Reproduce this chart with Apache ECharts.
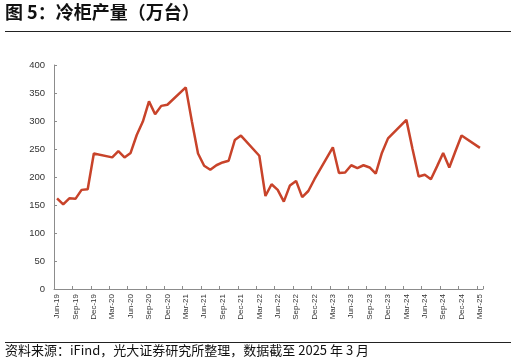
<!DOCTYPE html>
<html>
<head>
<meta charset="utf-8">
<script src="https://cdn.jsdelivr.net/npm/echarts@6/dist/echarts.min.js"></script>
<style>
html,body{margin:0;padding:0;background:#fff;}
#chart{width:516px;height:364px;}
</style>
</head>
<body>
<div id="chart"></div>
<script>
var categories = [
 'Jun-19','Jul-19','Aug-19','Sep-19','Oct-19','Nov-19','Dec-19',
 'Jan-20','Feb-20','Mar-20','Apr-20','May-20','Jun-20','Jul-20','Aug-20','Sep-20','Oct-20','Nov-20','Dec-20',
 'Jan-21','Feb-21','Mar-21','Apr-21','May-21','Jun-21','Jul-21','Aug-21','Sep-21','Oct-21','Nov-21','Dec-21',
 'Jan-22','Feb-22','Mar-22','Apr-22','May-22','Jun-22','Jul-22','Aug-22','Sep-22','Oct-22','Nov-22','Dec-22',
 'Jan-23','Feb-23','Mar-23','Apr-23','May-23','Jun-23','Jul-23','Aug-23','Sep-23','Oct-23','Nov-23','Dec-23',
 'Jan-24','Feb-24','Mar-24','Apr-24','May-24','Jun-24','Jul-24','Aug-24','Sep-24','Oct-24','Nov-24','Dec-24',
 'Jan-25','Feb-25','Mar-25'
];
var production = [
 162,151,162,161,177,178,242,
 null,null,235,246,235,243,275,299,335,312,327,329,
 null,null,360,299,242,220,213,221,226,229,266,274,
 null,null,238,166,187,177,156,185,193,164,175,196,
 null,null,253,207,208,221,216,221,217,206,243,269,
 null,null,302,250,201,204,196,219,243,217,246,274,
 null,null,252
];
var yTicks = [0,50,100,150,200,250,300,350,400];
var titleText = '图 5：冷柜产量（万台）';
var sourceText = '资料来源：iFind，光大证券研究所整理，数据截至 2025 年 3 月';

var chart = echarts.init(document.getElementById('chart'), null, {renderer:'canvas'});
chart.setOption({
  animation:false,
  backgroundColor:'#fff',
  grid:{left:54, right:33, top:65, bottom:75, containLabel:false},
  xAxis:{
    type:'category',
    data:categories,
    boundaryGap:true,
    axisLine:{lineStyle:{color:'#8c8c8c', width:1}},
    axisTick:{show:true, inside:true, length:3, interval:2, lineStyle:{color:'#8c8c8c'}},
    axisLabel:{interval:2, rotate:90, fontSize:8, color:'#333', margin:5, fontFamily:'Liberation Sans, Arial, sans-serif'},
    splitLine:{show:false}
  },
  yAxis:{
    type:'value',
    min:yTicks[0], max:yTicks[yTicks.length-1], interval:50,
    axisLine:{show:true, lineStyle:{color:'#8c8c8c', width:1}},
    axisTick:{show:true, inside:true, length:3, lineStyle:{color:'#8c8c8c'}},
    axisLabel:{fontSize:9.5, color:'#333', margin:9, fontFamily:'Liberation Sans, Arial, sans-serif'},
    splitLine:{show:false}
  },
  series:[{
    type:'line',
    data:production,
    connectNulls:true,
    symbol:'none',
    lineStyle:{color:'#c8432a', width:2.5},
    itemStyle:{color:'#c8432a'}
  }],
  graphic:[
    {type:'text', left:5, top:3, style:{text:titleText, font:'bold 18px "Noto Sans CJK SC", sans-serif', fill:'#111'}},
    {type:'line', shape:{x1:5, y1:31.5, x2:511, y2:31.5}, style:{stroke:'#222', lineWidth:1}},
    {type:'line', shape:{x1:5, y1:342.5, x2:511, y2:342.5}, style:{stroke:'#222', lineWidth:1}},
    {type:'text', left:5, top:344, style:{text:sourceText, font:'13px "Noto Sans CJK SC", sans-serif', fill:'#111'}}
  ]
});
</script>
</body>
</html>
